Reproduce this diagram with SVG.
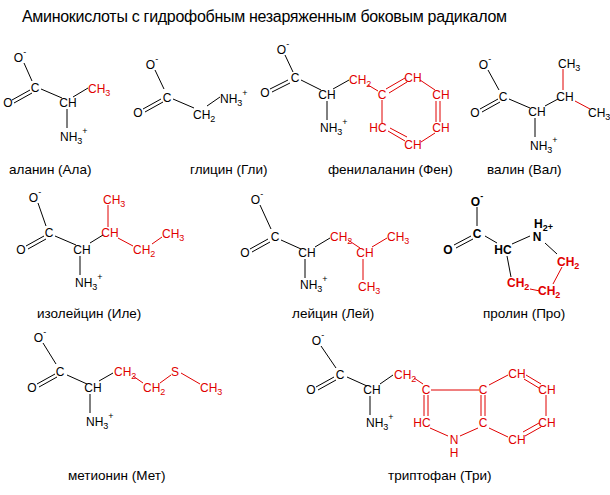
<svg xmlns="http://www.w3.org/2000/svg" width="610" height="495" viewBox="0 0 610 495">
<style>
text{font-family:"Liberation Sans",Arial,sans-serif;font-size:12px;fill:#000}
.m{text-anchor:middle}
.r{fill:#e00000}
.b{font-weight:bold}
.lbl{font-size:13.5px}
.s{font-size:9px}
line{stroke:#000;stroke-width:1}
line.rd{stroke:#e00000}
</style>
<rect width="610" height="495" fill="#fff"/>
<text x="22" y="22" style="font-size:16px" textLength="485">Аминокислоты с гидрофобным незаряженным боковым радикалом</text>
<g id="connectors">
<!-- alanine -->
<line x1="24" y1="63" x2="32" y2="81"/><line x1="12" y1="100" x2="30" y2="90"/><line x1="14" y1="103" x2="32" y2="93"/>
<line x1="41" y1="89" x2="62" y2="98"/><line x1="73" y1="97" x2="88" y2="88"/><line x1="67" y1="109" x2="67" y2="128"/>
<!-- glycine -->
<line x1="155" y1="70" x2="164" y2="89"/><line x1="143" y1="109" x2="161" y2="99"/><line x1="145" y1="112" x2="163" y2="102"/>
<line x1="173" y1="99" x2="194" y2="108"/><line x1="207" y1="106" x2="220" y2="97"/>
<!-- phenylalanine -->
<line x1="285" y1="55" x2="293" y2="72"/><line x1="270" y1="89" x2="288" y2="80"/><line x1="272" y1="92" x2="290" y2="83"/>
<line x1="301" y1="80" x2="321" y2="90"/><line x1="333" y1="89" x2="349" y2="80"/><line x1="327" y1="101" x2="327" y2="120"/>
<line class="rd" x1="368" y1="85" x2="378" y2="91"/>
<line class="rd" x1="386" y1="89" x2="405" y2="78"/><line class="rd" x1="389" y1="93" x2="407" y2="82"/>
<line class="rd" x1="420" y1="80" x2="435" y2="90"/>
<line class="rd" x1="436" y1="101" x2="436" y2="122"/><line class="rd" x1="440" y1="101" x2="440" y2="122"/>
<line class="rd" x1="435" y1="133" x2="421" y2="142"/>
<line class="rd" x1="405" y1="141" x2="388" y2="131"/><line class="rd" x1="407" y1="137" x2="390" y2="128"/>
<line class="rd" x1="382" y1="123" x2="382" y2="100"/>
<!-- valine -->
<line x1="488" y1="70" x2="499" y2="90"/><line x1="480" y1="109" x2="498" y2="99"/><line x1="482" y1="112" x2="500" y2="102"/>
<line x1="509" y1="99" x2="530" y2="108"/><line x1="545" y1="106" x2="558" y2="99"/><line x1="535" y1="118" x2="535" y2="137"/>
<line class="rd" x1="563" y1="69" x2="563" y2="90"/><line class="rd" x1="575" y1="101" x2="590" y2="109"/>
<!-- isoleucine -->
<line x1="38" y1="203" x2="46" y2="226"/><line x1="26" y1="246" x2="44" y2="236"/><line x1="28" y1="249" x2="46" y2="239"/>
<line x1="55" y1="236" x2="76" y2="245"/><line x1="90" y1="243" x2="103" y2="235"/><line x1="80" y1="256" x2="80" y2="275"/>
<line class="rd" x1="108" y1="205" x2="108" y2="227"/><line class="rd" x1="118" y1="238" x2="133" y2="246"/><line class="rd" x1="152" y1="244" x2="162" y2="237"/>
<!-- leucine -->
<line x1="260" y1="205" x2="271" y2="229"/><line x1="250" y1="249" x2="268" y2="239"/><line x1="252" y1="252" x2="270" y2="242"/>
<line x1="281" y1="240" x2="301" y2="249"/><line x1="315" y1="247" x2="330" y2="238"/><line x1="305" y1="259" x2="305" y2="278"/>
<line class="rd" x1="348" y1="240" x2="360" y2="248"/><line class="rd" x1="372" y1="247" x2="387" y2="238"/><line class="rd" x1="363" y1="259" x2="363" y2="280"/>
<!-- proline -->
<line x1="477" y1="207" x2="477" y2="226"/><line x1="454" y1="245" x2="471" y2="236"/><line x1="456" y1="248" x2="473" y2="239"/>
<line x1="485" y1="236" x2="497" y2="243"/><line x1="512" y1="244" x2="530" y2="236"/><line x1="545" y1="243" x2="557" y2="254"/>
<line x1="507" y1="256" x2="511" y2="277"/>
<line class="rd" x1="562" y1="267" x2="553" y2="284"/><line class="rd" x1="530" y1="289" x2="540" y2="291"/>
<!-- methionine -->
<line x1="43" y1="343" x2="56" y2="364"/><line x1="37" y1="384" x2="55" y2="374"/><line x1="39" y1="387" x2="57" y2="377"/>
<line x1="67" y1="375" x2="87" y2="384"/><line x1="99" y1="381" x2="113" y2="373"/><line x1="90" y1="394" x2="90" y2="413"/>
<line class="rd" x1="133" y1="376" x2="143" y2="383"/><line class="rd" x1="160" y1="383" x2="171" y2="375"/><line class="rd" x1="181" y1="373" x2="200" y2="384"/>
<!-- tryptophan -->
<line x1="321" y1="346" x2="336" y2="368"/><line x1="316" y1="387" x2="334" y2="377"/><line x1="318" y1="390" x2="336" y2="380"/>
<line x1="347" y1="377" x2="367" y2="386"/><line x1="380" y1="384" x2="393" y2="375"/><line x1="370" y1="396" x2="370" y2="415"/>
<line class="rd" x1="414" y1="378" x2="423" y2="384"/>
<line class="rd" x1="431" y1="390" x2="479" y2="390"/>
<line class="rd" x1="424" y1="395" x2="424" y2="416"/><line class="rd" x1="428" y1="395" x2="428" y2="416"/>
<line class="rd" x1="430" y1="428" x2="448" y2="436"/><line class="rd" x1="460" y1="436" x2="478" y2="428"/>
<line class="rd" x1="481" y1="395" x2="481" y2="416"/><line class="rd" x1="485" y1="395" x2="485" y2="416"/>
<line class="rd" x1="489" y1="385" x2="508" y2="375"/>
<line class="rd" x1="526" y1="375" x2="541" y2="384"/><line class="rd" x1="524" y1="379" x2="539" y2="388"/>
<line class="rd" x1="546" y1="395" x2="546" y2="416"/>
<line class="rd" x1="541" y1="427" x2="525" y2="436"/><line class="rd" x1="539" y1="423" x2="523" y2="432"/>
<line class="rd" x1="489" y1="428" x2="508" y2="437"/>
</g>
<g id="alanine">
<text class="m" x="20" y="62">O<tspan class="s" dy="-7">-</tspan></text>
<text class="m" x="35" y="92">C</text><text class="m" x="8" y="107">O</text><text class="m" x="68" y="107">CH</text>
<text class="r" x="88" y="93">CH<tspan class="s" dy="3">3</tspan></text>
<text x="60" y="141">NH<tspan class="s" dy="3">3</tspan><tspan class="s" dy="-10">+</tspan></text>
<text class="lbl" x="9" y="174">аланин (Ала)</text>
</g>
<g id="glycine">
<text class="m" x="152" y="69">O<tspan class="s" dy="-7">-</tspan></text>
<text class="m" x="167" y="102">C</text><text class="m" x="138" y="117">O</text>
<text x="193" y="119">CH<tspan class="s" dy="3">2</tspan></text>
<text x="220" y="103">NH<tspan class="s" dy="3">3</tspan><tspan class="s" dy="-10">+</tspan></text>
<text class="lbl" x="190" y="174">глицин (Гли)</text>
</g>
<g id="phenylalanine">
<text class="m" x="283" y="54">O<tspan class="s" dy="-7">-</tspan></text>
<text class="m" x="295" y="82">C</text><text class="m" x="265" y="97">O</text><text class="m" x="327" y="99">CH</text>
<text x="320" y="132">NH<tspan class="s" dy="3">3</tspan><tspan class="s" dy="-10">+</tspan></text>
<text class="r" x="349" y="84">CH<tspan class="s" dy="3">2</tspan></text>
<text class="r m" x="382" y="99">C</text><text class="r m" x="413" y="82">CH</text><text class="r m" x="441" y="99">CH</text>
<text class="r m" x="441" y="132">CH</text><text class="r m" x="413" y="149">CH</text><text class="r m" x="378" y="132">HC</text>
<text class="lbl" x="328" y="174">фенилаланин (Фен)</text>
</g>
<g id="valine">
<text class="m" x="485" y="69">O<tspan class="s" dy="-7">-</tspan></text>
<text class="m" x="503" y="101">C</text><text class="m" x="475" y="117">O</text><text class="m" x="537" y="116">CH</text>
<text x="530" y="150">NH<tspan class="s" dy="3">3</tspan><tspan class="s" dy="-10">+</tspan></text>
<text class="m" x="565" y="101">CH</text>
<text x="558" y="68">CH<tspan class="s" dy="3">3</tspan></text>
<text x="588" y="117">CH<tspan class="s" dy="3">3</tspan></text>
<text class="lbl" x="487" y="174">валин (Вал)</text>
</g>
<g id="isoleucine">
<text class="m" x="35" y="202">O<tspan class="s" dy="-7">-</tspan></text>
<text class="m" x="49" y="237">C</text><text class="m" x="21" y="254">O</text><text class="m" x="82" y="254">CH</text>
<text x="75" y="287">NH<tspan class="s" dy="3">3</tspan><tspan class="s" dy="-10">+</tspan></text>
<text class="r m" x="110" y="237">CH</text>
<text class="r" x="103" y="204">CH<tspan class="s" dy="3">3</tspan></text>
<text class="r" x="133" y="254">CH<tspan class="s" dy="3">2</tspan></text>
<text class="r" x="162" y="238">CH<tspan class="s" dy="3">3</tspan></text>
<text class="lbl" x="37" y="318">изолейцин (Иле)</text>
</g>
<g id="leucine">
<text class="m" x="257" y="204">O<tspan class="s" dy="-7">-</tspan></text>
<text class="m" x="275" y="241">C</text><text class="m" x="245" y="257">O</text><text class="m" x="307" y="257">CH</text>
<text x="300" y="289">NH<tspan class="s" dy="3">3</tspan><tspan class="s" dy="-10">+</tspan></text>
<text class="r" x="330" y="241">CH<tspan class="s" dy="3">2</tspan></text>
<text class="r m" x="365" y="257">CH</text>
<text class="r" x="387" y="241">CH<tspan class="s" dy="3">3</tspan></text>
<text class="r" x="358" y="291">CH<tspan class="s" dy="3">3</tspan></text>
<text class="lbl" x="292" y="318">лейцин (Лей)</text>
</g>
<g id="proline">
<text class="m b" x="477" y="206">O<tspan class="s" dy="-7">-</tspan></text>
<text class="m b" x="477" y="238">C</text><text class="m b" x="448" y="254">O</text><text class="m b" x="503" y="254">HC</text>
<text class="m b" x="537" y="241">N</text>
<text class="b" x="534" y="228">H<tspan class="s" dy="3">2</tspan><tspan class="s" dy="-1">+</tspan></text>
<text class="r b" x="557" y="266">CH<tspan class="s" dy="3">2</tspan></text>
<text class="r b" x="538" y="295">CH<tspan class="s" dy="3">2</tspan></text>
<text class="r b" x="507" y="287">CH<tspan class="s" dy="3">2</tspan></text>
<text class="lbl" x="483" y="318">пролин (Про)</text>
</g>
<g id="methionine">
<text class="m" x="40" y="342">O<tspan class="s" dy="-7">-</tspan></text>
<text class="m" x="60" y="376">C</text><text class="m" x="32" y="392">O</text><text class="m" x="93" y="392">CH</text>
<text x="86" y="426">NH<tspan class="s" dy="3">3</tspan><tspan class="s" dy="-10">+</tspan></text>
<text class="r" x="114" y="376">CH<tspan class="s" dy="3">2</tspan></text>
<text class="r" x="143" y="392">CH<tspan class="s" dy="3">2</tspan></text>
<text class="r m" x="175" y="376">S</text>
<text class="r" x="200" y="392">CH<tspan class="s" dy="3">3</tspan></text>
<text class="lbl" x="68" y="480">метионин (Мет)</text>
</g>
<g id="tryptophan">
<text class="m" x="318" y="345">O<tspan class="s" dy="-7">-</tspan></text>
<text class="m" x="340" y="379">C</text><text class="m" x="311" y="394">O</text><text class="m" x="372" y="394">CH</text>
<text x="366" y="427">NH<tspan class="s" dy="3">3</tspan><tspan class="s" dy="-10">+</tspan></text>
<text class="r" x="394" y="379">CH<tspan class="s" dy="3">2</tspan></text>
<text class="r m" x="426" y="394">C</text><text class="r m" x="422" y="427">HC</text>
<text class="r m" x="454" y="444">N</text><text class="r m" x="454" y="457">H</text>
<text class="r m" x="483" y="394">C</text><text class="r m" x="483" y="427">C</text>
<text class="r m" x="517" y="378">CH</text><text class="r m" x="547" y="394">CH</text>
<text class="r m" x="547" y="427">CH</text><text class="r m" x="517" y="444">CH</text>
<text class="lbl" x="388" y="480">триптофан (Три)</text>
</g>
</svg>
